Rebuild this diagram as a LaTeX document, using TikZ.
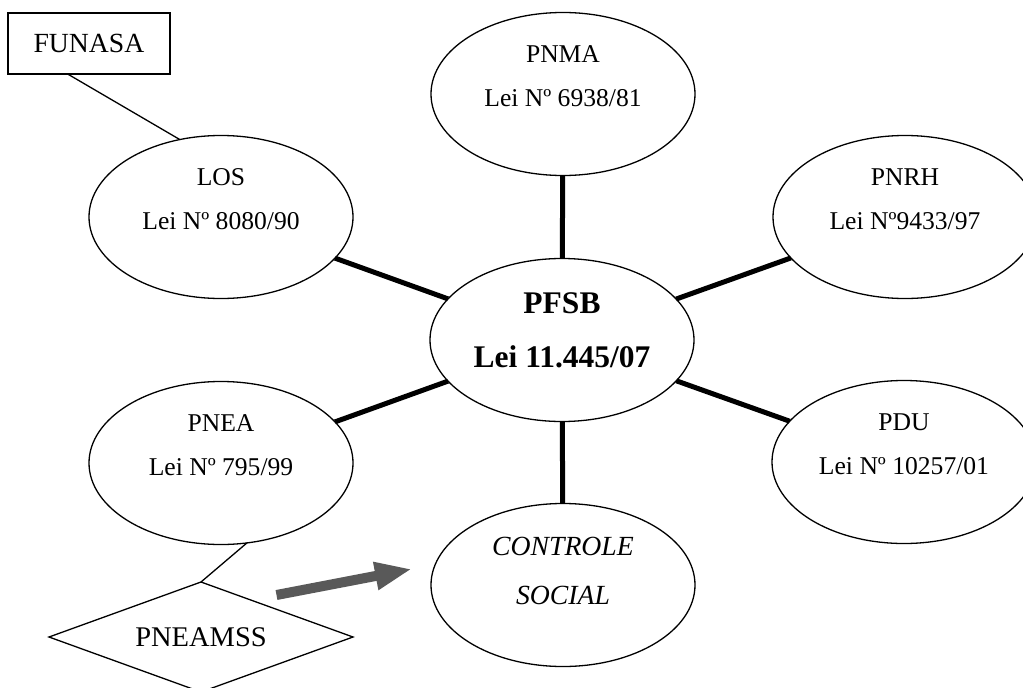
\documentclass[tikz,border=0pt]{standalone}
\usepackage{fontspec}
\setmainfont{Liberation Serif}
\usetikzlibrary{shapes.geometric,arrows.meta}
\definecolor{arrowgray}{RGB}{89,89,89}

% an ellipse with two lines of text in its upper part
\newcommand\lawbubble[4]{%
  \node[bub] (#1) at (#2) {};
  \node[btxt] (#1-a) at ([yshift=32pt]#1.center) {#3};
  \node[btxt] (#1-b) at ([yshift=-12.5pt]#1.center) {#4};
}

\begin{document}
\begin{tikzpicture}[x=1pt,y=-1pt,
  bub/.style={draw, ellipse, line width=1.3pt, minimum width=264pt,
    minimum height=163pt, inner sep=0pt, outer sep=0pt},
  btxt/.style={anchor=base, inner sep=0pt,
    font=\fontsize{25.6}{30}\selectfont},
  heavylink/.style={line width=5pt},
  lightlink/.style={line width=1.3pt},
  bigarrow/.style={line width=10pt, arrowgray,
    -{Triangle[length=37pt,width=26pt]}}]

\useasboundingbox (0,0) rectangle (1023,688);

% central law
\node[bub] (pfsb) at (562,340) {};
\node[anchor=base, inner sep=0pt, font=\fontsize{31.5}{36}\selectfont\bfseries]
  (pfsb-a) at ([yshift=27pt]pfsb.center) {PFSB};
\node[anchor=base, inner sep=0pt, font=\fontsize{31.5}{36}\selectfont\bfseries]
  (pfsb-b) at ([yshift=-27pt]pfsb.center) {Lei 11.445/07};

% surrounding laws
\lawbubble{pnma}{563,94}{PNMA}{Lei Nº 6938/81}
\lawbubble{los}{221,217}{LOS}{Lei Nº 8080/90}
\lawbubble{pnrh}{905,217}{PNRH}{Lei Nº9433/97}
\lawbubble{pnea}{221,463}{PNEA}{Lei Nº 795/99}
\lawbubble{pdu}{904,462}{PDU}{Lei Nº 10257/01}

% social control
\node[bub] (cs) at (563,585) {};
\node[anchor=base, inner sep=0pt, font=\fontsize{27.7}{32}\selectfont\itshape]
  (cs-a) at ([yshift=30pt]cs.center) {CONTROLE};
\node[anchor=base, inner sep=0pt, font=\fontsize{27.7}{32}\selectfont\itshape]
  (cs-b) at ([yshift=-19pt]cs.center) {SOCIAL};

% side elements
\node[draw, line width=1.3pt, minimum width=162pt, minimum height=61pt,
  inner sep=0pt, outer sep=0pt, font=\fontsize{27.7}{32}\selectfont]
  (funasa) at (89,43.5) {FUNASA};
\node[draw, diamond, aspect=2.76, line width=1.3pt, minimum width=304pt,
  minimum height=110pt, inner sep=0pt, outer sep=0pt,
  font=\fontsize{28.5}{32}\selectfont]
  (pneamss) at (201,637) {PNEAMSS};

% links to the central law
\draw[heavylink] (pnma) -- (pfsb);
\draw[heavylink] (los) -- (pfsb);
\draw[heavylink] (pnrh) -- (pfsb);
\draw[heavylink] (pnea) -- (pfsb);
\draw[heavylink] (pdu) -- (pfsb);
\draw[heavylink] (pfsb) -- (cs);

% thin links
\draw[lightlink] (funasa.235) -- (los.118);
\draw[lightlink] (pnea.288) -- (pneamss.north);

% arrow towards social control
\coordinate (arrtail) at (276.5,595);
\coordinate (arrtip) at (412,569);
\draw[bigarrow] (arrtail) -- (arrtip);

\end{tikzpicture}
\end{document}
